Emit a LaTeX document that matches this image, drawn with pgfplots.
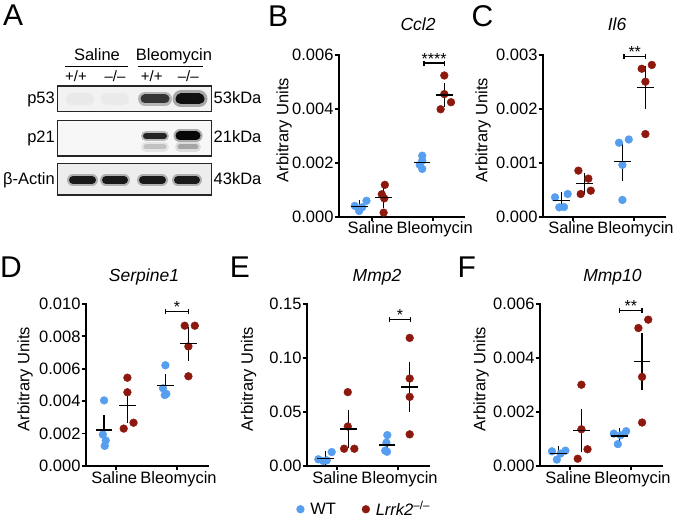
\documentclass[border=0pt]{standalone}
\usepackage{fontspec}
\setmainfont{Liberation Sans}
\usepackage{pgfplots}
\pgfplotsset{compat=1.18}
\definecolor{wtblue}{RGB}{85,158,240}
\definecolor{kored}{RGB}{140,24,14}
\newcommand{\fs}[1]{\fontsize{#1}{#1}\selectfont}
\pgfplotsset{
  dotplot/.style={
    scale only axis, height=162pt, width=122pt,
    axis lines=left, axis line style={-, line width=1.8pt, line cap=rect},
    tick align=outside, major tick length=4pt, tick style={line width=1.8pt, black},
    xmin=0.51, xmax=2.5, ymin=0,
    xtick={1,2}, xticklabels={Saline\hspace*{3pt},\hspace*{3pt}Bleomycin},
    ticklabel style={font=\fs{16.5}},
    xticklabel style={inner sep=1pt},
    yticklabel style={inner sep=1pt},
    /pgf/number format/assume math mode=true,
    scaled y ticks=false,
    clip=false,
  },
  prec3/.style={yticklabel style={/pgf/number format/fixed, /pgf/number format/fixed zerofill, /pgf/number format/precision=3}},
  prec2/.style={yticklabel style={/pgf/number format/fixed, /pgf/number format/fixed zerofill, /pgf/number format/precision=2}},
  wt/.style={only marks, mark=*, mark size=3.9pt, color=wtblue, mark options={draw=none, fill=wtblue}},
  ko/.style={only marks, mark=*, mark size=3.9pt, color=kored, mark options={draw=none, fill=kored}},
  meanbar/.style={black, only marks, mark=-, mark size=8.3pt, mark options={line width=1.5pt},
    error bars/y dir=both, error bars/y explicit, error bars/error bar style={line width=1.5pt},
    error bars/error mark options={mark size=5pt, line width=1.5pt}},
  sigbar/.style={black, line width=1.3pt, mark=|, mark size=2.5pt, mark options={line width=1.3pt}},
}
\begin{document}
\begin{tikzpicture}
\useasboundingbox (0,0) rectangle (680pt,519pt);
% ---------------- canvas (panel A, titles, labels) ----------------
\begin{axis}[at={(0pt,0pt)}, anchor=south west, scale only axis, width=680pt, height=519pt,
  xmin=0, xmax=680, ymin=0, ymax=519, y dir=reverse, hide axis, clip=false]
% blot boxes (fill)
\fill[black!5] (axis cs:57.3,86) rectangle (axis cs:211.7,111.7);
\fill[black!3] (axis cs:57.3,120.7) rectangle (axis cs:211.7,156);
\fill[black!7] (axis cs:57.3,163.3) rectangle (axis cs:211.7,195);
% p53 bands
\addplot[black, line cap=round, line width=12pt, opacity=0.035] coordinates {(72,99) (88,99)};
\addplot[black, line cap=round, line width=12pt, opacity=0.03] coordinates {(107,99) (123,99)};
\addplot[black, line cap=round, line width=14pt, opacity=0.25] coordinates {(145,99) (165,99)};
\addplot[black, line cap=round, line width=9pt, opacity=0.7] coordinates {(145,99) (165,99)};
\addplot[black, line cap=round, line width=17pt, opacity=0.3] coordinates {(181,99) (199,99)};
\addplot[black, line cap=round, line width=11pt, opacity=0.9] coordinates {(181,99) (199,99)};
% p21 bands
\addplot[black, line cap=round, line width=10pt, opacity=0.25] coordinates {(146,136) (164,136)};
\addplot[black, line cap=round, line width=6pt, opacity=0.8] coordinates {(146,136) (164,136)};
\addplot[black, line cap=round, line width=13pt, opacity=0.3] coordinates {(180,136) (196,136)};
\addplot[black, line cap=round, line width=9pt, opacity=0.95] coordinates {(180,136) (196,136)};
\addplot[black, line cap=round, line width=10pt, opacity=0.07] coordinates {(146,147) (164,147)};
\addplot[black, line cap=round, line width=5pt, opacity=0.15] coordinates {(146,147) (164,147)};
\addplot[black, line cap=round, line width=10pt, opacity=0.1] coordinates {(180,147) (196,147)};
\addplot[black, line cap=round, line width=5pt, opacity=0.25] coordinates {(180,147) (196,147)};
% actin bands
\addplot[black, line cap=round, line width=12pt, opacity=0.25] coordinates {(73,180) (92,180)};
\addplot[black, line cap=round, line width=8pt, opacity=0.85] coordinates {(73,180) (92,180)};
\addplot[black, line cap=round, line width=12pt, opacity=0.25] coordinates {(106,180) (124,180)};
\addplot[black, line cap=round, line width=8pt, opacity=0.85] coordinates {(106,180) (124,180)};
\addplot[black, line cap=round, line width=12pt, opacity=0.25] coordinates {(143,180) (162,180)};
\addplot[black, line cap=round, line width=8pt, opacity=0.85] coordinates {(143,180) (162,180)};
\addplot[black, line cap=round, line width=12pt, opacity=0.25] coordinates {(178,180) (196,180)};
\addplot[black, line cap=round, line width=8pt, opacity=0.85] coordinates {(178,180) (196,180)};
% blot box outlines
\draw[line width=1.3pt, black!85] (axis cs:57.3,86) rectangle (axis cs:211.7,111.7);
\draw[line width=1.3pt, black!85] (axis cs:57.3,120.7) rectangle (axis cs:211.7,156);
\draw[line width=1.3pt, black!85] (axis cs:57.3,163.3) rectangle (axis cs:211.7,195);
% blot labels
\node[anchor=base, inner sep=0, font=\fs{16.5}] at (axis cs:97,60.7) {Saline};
\node[anchor=base, inner sep=0, font=\fs{16.5}] at (axis cs:174,60.7) {Bleomycin};
\draw[line width=1.3pt] (axis cs:65,66.7) -- (axis cs:128.3,66.7);
\draw[line width=1.3pt] (axis cs:138.3,66.7) -- (axis cs:203.3,66.7);
\node[anchor=base, inner sep=0, font=\fs{15}] at (axis cs:76,81.7) {+/+};
\node[anchor=base, inner sep=0, font=\fs{15}] at (axis cs:115,81.7) {–/–};
\node[anchor=base, inner sep=0, font=\fs{15}] at (axis cs:151.7,81.7) {+/+};
\node[anchor=base, inner sep=0, font=\fs{15}] at (axis cs:188.3,81.7) {–/–};
\node[anchor=base east, inner sep=0, font=\fs{16.5}] at (axis cs:55,103.5) {p53};
\node[anchor=base east, inner sep=0, font=\fs{16.5}] at (axis cs:55,142.7) {p21};
\node[anchor=base east, inner sep=0, font=\fs{16.5}] at (axis cs:55,184) {β-Actin};
\node[anchor=base west, inner sep=0, font=\fs{16.5}] at (axis cs:213.5,103.5) {53kDa};
\node[anchor=base west, inner sep=0, font=\fs{16.5}] at (axis cs:213.5,142.7) {21kDa};
\node[anchor=base west, inner sep=0, font=\fs{16.5}] at (axis cs:213.5,184) {43kDa};
% panel letters
\node[anchor=base west, inner sep=0, font=\fs{30}] at (axis cs:3,26) {A};
\node[anchor=base west, inner sep=0, font=\fs{30}] at (axis cs:268,27) {B};
\node[anchor=base west, inner sep=0, font=\fs{30}] at (axis cs:471.5,27) {C};
\node[anchor=base west, inner sep=0, font=\fs{30}] at (axis cs:0,277) {D};
\node[anchor=base west, inner sep=0, font=\fs{30}] at (axis cs:229.6,277) {E};
\node[anchor=base west, inner sep=0, font=\fs{30}] at (axis cs:457.3,277) {F};
% gene titles
\node[anchor=base, inner sep=0, font=\fs{17.5}\itshape] at (axis cs:418,31) {Ccl2};
\node[anchor=base, inner sep=0, font=\fs{17.5}\itshape] at (axis cs:617,31) {Il6};
\node[anchor=base, inner sep=0, font=\fs{17.5}\itshape] at (axis cs:144,281) {Serpine1};
\node[anchor=base, inner sep=0, font=\fs{17.5}\itshape] at (axis cs:377,281) {Mmp2};
\node[anchor=base, inner sep=0, font=\fs{17.5}\itshape] at (axis cs:612.5,281) {Mmp10};
% y labels
\node[rotate=90, inner sep=0, font=\fs{16.5}] at (axis cs:284,130) {Arbitrary Units};
\node[rotate=90, inner sep=0, font=\fs{16.5}] at (axis cs:483,130) {Arbitrary Units};
\node[rotate=90, inner sep=0, font=\fs{16.5}] at (axis cs:25,379) {Arbitrary Units};
\node[rotate=90, inner sep=0, font=\fs{16.5}] at (axis cs:248.5,379) {Arbitrary Units};
\node[rotate=90, inner sep=0, font=\fs{16.5}] at (axis cs:481,379) {Arbitrary Units};
\end{axis}
% ---------------- B: Ccl2 ----------------
\begin{axis}[dotplot, prec3, at={(338.7pt,302.3pt)}, anchor=south west, width=125.2pt, xmin=0.457,
  ymax=0.006, ytick={0,0.002,0.004,0.006}]
\addplot[wt] coordinates {(0.72,0.00040) (0.79,0.00021) (0.91,0.00059) (0.84,0.00035)
  (1.82,0.00226) (1.82,0.00208) (1.78,0.00192) (1.82,0.00177)};
\addplot[ko] coordinates {(1.21,0.00118) (1.16,0.00083) (1.20,0.00068) (1.19,0.00015)
  (2.18,0.00523) (2.18,0.00454) (2.29,0.00424) (2.12,0.00398)};
\addplot[meanbar] coordinates {(0.793,0.00037) +- (0,0.00008) (1.185,0.00072) +- (0,0.00021)
  (1.816,0.00201) +- (0,0.00010) (2.18,0.00450) +- (0,0.00025)};
\addplot[sigbar] coordinates {(1.85,0.00569) (2.18,0.00569)};
\node[anchor=base, inner sep=0, font=\fs{16}] at (axis cs:2.015,0.00569) [yshift=-1pt] {****};
\end{axis}
% ---------------- C: Il6 ----------------
\begin{axis}[dotplot, prec3, at={(542.7pt,302.3pt)}, anchor=south west,
  ymax=0.003, ytick={0,0.001,0.002,0.003}]
\addplot[wt] coordinates {(0.711,0.000359) (0.918,0.00042) (0.78,0.000173) (0.858,0.000179)
  (1.755,0.00137) (1.914,0.00143) (1.81,0.00096) (1.81,0.00031)};
\addplot[ko] coordinates {(1.092,0.000853) (1.255,0.000705) (1.294,0.000482) (1.13,0.00042)
  (2.125,0.00274) (2.29,0.00281) (2.185,0.0025) (2.185,0.00153)};
\addplot[meanbar] coordinates {(0.82,0.000297) +- (0,0.00006) (1.19,0.000612) +- (0,0.0001)
  (1.81,0.00102) +- (0,0.00026) (2.185,0.00239) +- (0,0.0003)};
\addplot[sigbar] coordinates {(1.837,0.00297) (2.185,0.00297)};
\node[anchor=base, inner sep=0, font=\fs{16}] at (axis cs:2.011,0.00297) [yshift=-1pt] {**};
\end{axis}
% ---------------- D: Serpine1 ----------------
\begin{axis}[dotplot, prec3, at={(85.7pt,53pt)}, anchor=south west,
  ymax=0.010, ytick={0,0.002,0.004,0.006,0.008,0.010}]
\addplot[wt] coordinates {(0.81,0.00405) (0.79,0.00194) (0.837,0.00157) (0.82,0.00124)
  (1.81,0.00622) (1.77,0.0048) (1.825,0.00445) (1.80,0.00438)};
\addplot[ko] coordinates {(1.19,0.00545) (1.19,0.00455) (1.13,0.00231) (1.29,0.00267)
  (2.125,0.00866) (2.29,0.00866) (2.185,0.00738) (2.185,0.00554)};
\addplot[meanbar] coordinates {(0.81,0.00221) +- (0,0.00063) (1.19,0.00374) +- (0,0.00075)
  (1.81,0.00496) +- (0,0.00042) (2.185,0.00756) +- (0,0.00074)};
\addplot[sigbar] coordinates {(1.815,0.00955) (2.185,0.00955)};
\node[anchor=base, inner sep=0, font=\fs{16}] at (axis cs:2.0,0.00955) [yshift=-1pt] {*};
\end{axis}
% ---------------- E: Mmp2 ----------------
\begin{axis}[dotplot, prec2, at={(306.7pt,53pt)}, anchor=south west,
  ymax=0.15, ytick={0,0.05,0.10,0.15},
  legend columns=2, legend cell align=left,
  legend image code/.code={\draw[#1] plot coordinates {(3.9pt,0pt)};},
  legend style={at={(-0.085,-0.267)}, anchor=west, draw=none, fill=none, inner sep=0pt,
    font=\fs{16.5}, /tikz/every odd column/.append style={column sep=4pt},
    /tikz/every even column/.append style={column sep=24pt}}]
\addlegendimage{only marks, mark=*, mark size=3.9pt, color=wtblue, mark options={draw=none, fill=wtblue}}
\addlegendentry{WT}
\addlegendimage{only marks, mark=*, mark size=3.9pt, color=kored, mark options={draw=none, fill=kored}}
\addlegendentry{\textit{Lrrk2}\textsuperscript{–/–}}
\addplot[forget plot, wt] coordinates {(0.70,0.0062) (0.78,0.0046) (0.918,0.0129) (0.837,0.0052)
  (1.825,0.0286) (1.81,0.0216) (1.82,0.0132) (1.79,0.0142)};
\addplot[forget plot, ko] coordinates {(1.18,0.0684) (1.18,0.0366) (1.12,0.016) (1.287,0.016)
  (2.19,0.1186) (2.19,0.081) (2.19,0.064) (2.19,0.0293)};
\addplot[forget plot, meanbar] coordinates {(0.82,0.0071) +- (0,0.0022) (1.19,0.0342) +- (0,0.0126)
  (1.82,0.0194) +- (0,0.0037) (2.19,0.0733) +- (0,0.0185)};
\addplot[forget plot, sigbar] coordinates {(1.86,0.1355) (2.206,0.1355)};
\node[anchor=base, inner sep=0, font=\fs{16}] at (axis cs:2.033,0.1355) [yshift=-1pt] {*};
\end{axis}
% ---------------- F: Mmp10 ----------------
\begin{axis}[dotplot, prec3, at={(539.7pt,53pt)}, anchor=south west,
  ymax=0.006, ytick={0,0.002,0.004,0.006}]
\addplot[wt] coordinates {(0.71,0.000545) (0.93,0.00057) (0.79,0.000236) (0.85,0.00046)
  (1.718,0.0012) (1.92,0.00129) (1.785,0.00081) (1.83,0.00114)};
\addplot[ko] coordinates {(1.19,0.00301) (1.19,0.00136) (1.29,0.00062) (1.13,0.00027)
  (2.12,0.00511) (2.28,0.00542) (2.18,0.0033) (2.18,0.00161)};
\addplot[meanbar] coordinates {(0.82,0.00047) +- (0,0.00007) (1.19,0.00131) +- (0,0.00062)
  (1.81,0.00112) +- (0,0.00011) (2.18,0.00387) +- (0,0.00088)};
\addplot[sigbar] coordinates {(1.815,0.00576) (2.18,0.00576)};
\node[anchor=base, inner sep=0, font=\fs{16}] at (axis cs:1.9975,0.00576) [yshift=-1pt] {**};
\end{axis}
\end{tikzpicture}
\end{document}
